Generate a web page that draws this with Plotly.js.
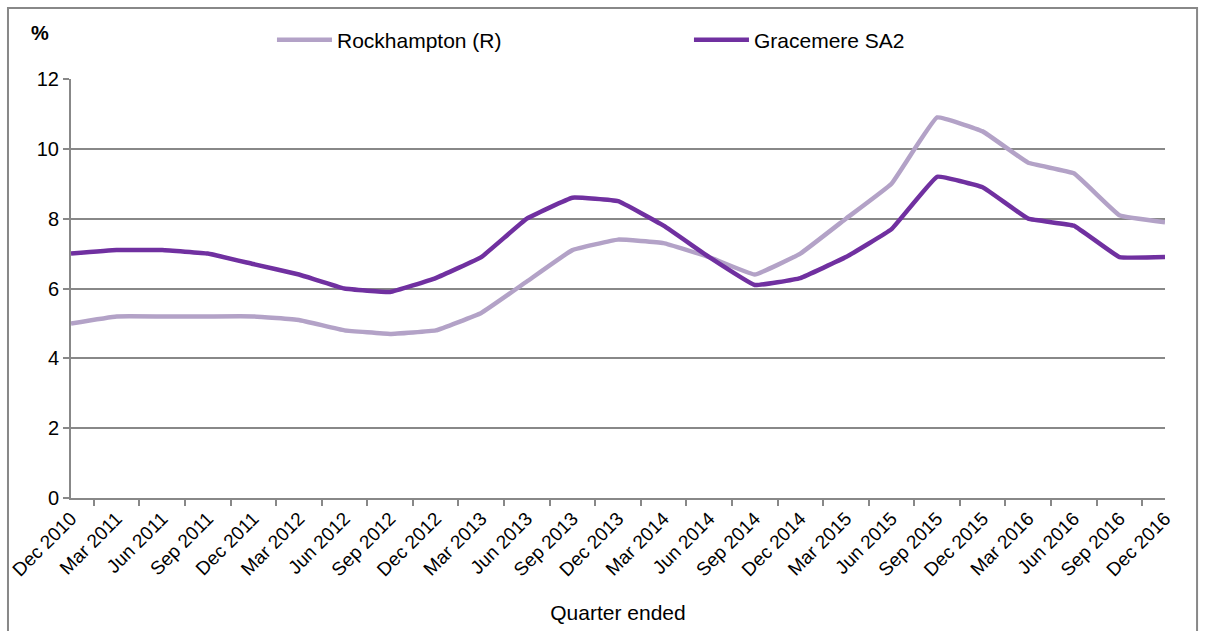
<!DOCTYPE html>
<html>
<head>
<meta charset="utf-8">
<script src="https://cdn.plot.ly/plotly-3.0.1.min.js"></script>
<style>
  html, body { margin: 0; padding: 0; background: #fff; }
  #chart { width: 1206px; height: 631px; }
</style>
</head>
<body>
<div id="chart"></div>
<script>
// quarters on the x axis
const quarters = ['Dec 2010', 'Mar 2011', 'Jun 2011', 'Sep 2011', 'Dec 2011', 'Mar 2012', 'Jun 2012',
    'Sep 2012', 'Dec 2012', 'Mar 2013', 'Jun 2013', 'Sep 2013', 'Dec 2013', 'Mar 2014', 'Jun 2014',
    'Sep 2014', 'Dec 2014', 'Mar 2015', 'Jun 2015', 'Sep 2015', 'Dec 2015', 'Mar 2016', 'Jun 2016',
    'Sep 2016', 'Dec 2016'];

// rate in %
const rockhampton = [5.0, 5.2, 5.2, 5.2, 5.2, 5.1, 4.8, 4.7, 4.8, 5.3, 6.2, 7.1, 7.4, 7.3, 6.9,
    6.4, 7.0, 8.0, 9.0, 10.9, 10.5, 9.6, 9.3, 8.1, 7.9];
const gracemere = [7.0, 7.1, 7.1, 7.0, 6.7, 6.4, 6.0, 5.9, 6.3, 6.9, 8.0, 8.6, 8.5, 7.8, 6.9,
    6.1, 6.3, 6.9, 7.7, 9.2, 8.9, 8.0, 7.8, 6.9, 6.9];

const yTicks = [0, 2, 4, 6, 8, 10, 12];

const font = 'Liberation Sans, Arial, sans-serif';

const traces = [
    {
        x: quarters,
        y: rockhampton,
        name: 'Rockhampton (R)',
        type: 'scatter',
        mode: 'lines',
        line: { color: '#b3a2c7', width: 4.5, shape: 'spline', smoothing: 0.25 }
    },
    {
        x: quarters,
        y: gracemere,
        name: 'Gracemere SA2',
        type: 'scatter',
        mode: 'lines',
        line: { color: '#7030a0', width: 4.5, shape: 'spline', smoothing: 0.25 }
    }
];

const layout = {
    width: 1206,
    height: 631,
    margin: { l: 71, r: 41, t: 79, b: 133 },
    paper_bgcolor: '#fff',
    plot_bgcolor: '#fff',
    font: { family: font, size: 20, color: '#000' },
    showlegend: true,
    legend: {
        orientation: 'h',
        x: 0.1837,
        xanchor: 'left',
        y: 1.093,
        yanchor: 'middle',
        itemwidth: 55,
        entrywidth: 347,
        font: { family: font, size: 21, color: '#000' },
        bgcolor: 'rgba(0,0,0,0)'
    },
    xaxis: {
        type: 'category',
        showgrid: false,
        showline: true,
        linecolor: '#888',
        linewidth: 2,
        ticks: 'outside',
        tickson: 'boundaries',
        ticklen: 6,
        tickcolor: '#888',
        tickwidth: 2,
        tickangle: -45,
        tickfont: { family: font, size: 19, color: '#000' },
        title: { text: 'Quarter ended', font: { family: font, size: 21, color: '#000' }, standoff: 26 },
        automargin: false,
        fixedrange: true
    },
    yaxis: {
        range: [0, 12],
        tickvals: yTicks,
        showgrid: true,
        gridcolor: '#888',
        gridwidth: 2,
        zeroline: false,
        showline: true,
        linecolor: '#888',
        linewidth: 2,
        ticks: 'outside',
        ticklen: 6,
        tickcolor: '#888',
        tickwidth: 2,
        tickfont: { family: font, size: 20, color: '#000' },
        automargin: false,
        fixedrange: true
    },
    annotations: [
        {
            text: '<b>%</b>',
            xref: 'paper', yref: 'paper',
            x: -0.028, y: 1.11,
            xanchor: 'center', yanchor: 'middle',
            showarrow: false,
            font: { family: font, size: 20, color: '#000' }
        }
    ],
    shapes: [
        {
            type: 'rect',
            xref: 'paper', yref: 'paper',
            x0: -0.0576, x1: 1.0293, y0: -0.4, y1: 1.1695,
            line: { color: '#888', width: 2 },
            fillcolor: 'rgba(0,0,0,0)',
            layer: 'below'
        }
    ]
};

Plotly.newPlot('chart', traces, layout, { displayModeBar: false, staticPlot: true });
</script>
</body>
</html>
